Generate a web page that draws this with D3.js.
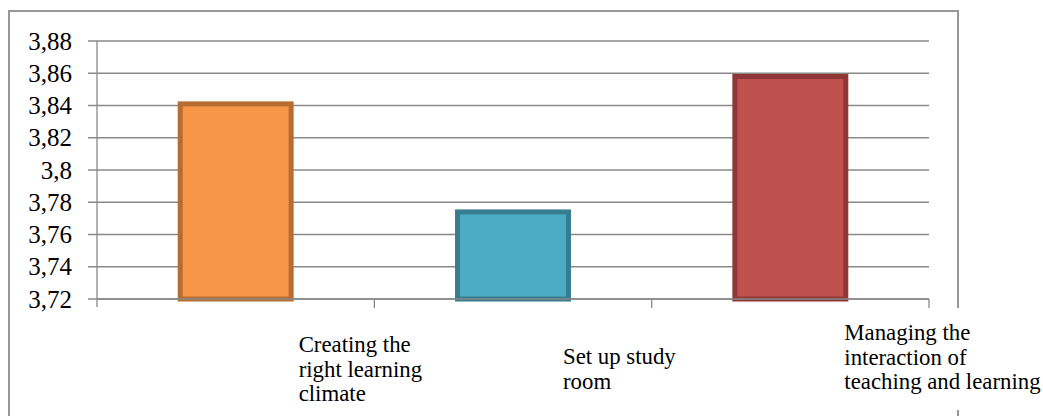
<!DOCTYPE html>
<html>
<head>
<meta charset="utf-8">
<script src="https://cdn.jsdelivr.net/npm/d3@7"></script>
<style>
  html, body { margin: 0; padding: 0; background: #fff; }
  svg { display: block; }
</style>
</head>
<body>
<svg id="chart" width="1043" height="416"></svg>
<script>
// Mean scores per competence area
const categories = [
  "Creating the right learning climate",
  "Set up study room",
  "Managing the interaction of teaching and learning"
];
const values = [3.841, 3.774, 3.858];
const labelLines = [
  ["Creating the", "right learning", "climate"],
  ["Set up study", "room"],
  ["Managing the", "interaction of", "teaching and learning"]
];
const yTicks = [3.72, 3.74, 3.76, 3.78, 3.80, 3.82, 3.84, 3.86, 3.88];

const fills   = ["#F79646", "#4BACC6", "#C0504D"];
const strokes = ["#B76C32", "#367D90", "#8E3735"];

// label placement relative to each band centre (dx to left edge, baseline of first line)
const labelLayout = [
  { dx: 63, y: 352 },
  { dx: 50, y: 364 },
  { dx: 54, y: 340 }
];

const svg = d3.select("#chart");
const plot = { left: 97, right: 929, top: 41, bottom: 299 };
const gridColor = "#898989";
const serif = "'Liberation Serif', 'Times New Roman', serif";

// chart frame
svg.append("rect")
  .attr("x", 9).attr("y", 11)
  .attr("width", 949).attr("height", 440)
  .attr("fill", "none")
  .attr("stroke", "#8c8c8c")
  .attr("stroke-width", 1.8);

const x = d3.scaleBand()
  .domain(categories)
  .range([plot.left, plot.right])
  .paddingInner(0.6)
  .paddingOuter(0.3);

const y = d3.scaleLinear()
  .domain([3.72, 3.88])
  .range([plot.bottom, plot.top]);

const fmt = d3.formatLocale({ decimal: ",", thousands: ".", grouping: [3], currency: ["", ""] }).format(".2~f");

// horizontal gridlines with short ticks past the axis
svg.append("g").selectAll("line")
  .data(yTicks)
  .join("line")
  .attr("x1", plot.left - 9).attr("x2", plot.right)
  .attr("y1", d => y(d)).attr("y2", d => y(d))
  .attr("stroke", gridColor)
  .attr("stroke-width", 1.3);

// bars
svg.append("g").selectAll("rect")
  .data(values)
  .join("rect")
  .attr("x", (d, i) => x(categories[i]))
  .attr("width", x.bandwidth())
  .attr("y", d => y(d))
  .attr("height", d => y(3.72) - y(d))
  .attr("fill", (d, i) => fills[i])
  .attr("stroke", (d, i) => strokes[i])
  .attr("stroke-width", 5);

// y axis
const yAxis = svg.append("g")
  .attr("transform", `translate(${plot.left},0)`)
  .call(d3.axisLeft(y).tickValues(yTicks).tickFormat(fmt).tickSize(0).tickPadding(25));
yAxis.attr("font-family", serif);
yAxis.select(".domain")
  .attr("d", `M0,${plot.top}V${plot.bottom + 8}`)
  .attr("stroke", gridColor)
  .attr("stroke-width", 1.3);
yAxis.selectAll("text")
  .style("font-family", serif)
  .attr("font-size", 25)
  .attr("fill", "#000");

// x axis baseline and category boundary ticks
const xAxis = svg.append("g");
xAxis.append("line")
  .attr("x1", plot.left).attr("x2", plot.right)
  .attr("y1", plot.bottom).attr("y2", plot.bottom)
  .attr("stroke", gridColor).attr("stroke-width", 1.3);
const bounds = categories.map(c => x(c) - x.step() * x.paddingInner() / 2 + x.step());
xAxis.selectAll(".xt")
  .data(bounds)
  .join("line")
  .attr("class", "xt")
  .attr("x1", d => d).attr("x2", d => d)
  .attr("y1", plot.bottom).attr("y2", plot.bottom + 9)
  .attr("stroke", gridColor).attr("stroke-width", 1.3);

// category labels
categories.forEach((c, i) => {
  const cx = x(c) + x.bandwidth() / 2;
  const lay = labelLayout[i];
  const g = svg.append("g");
  const bg = g.append("rect").attr("fill", "#fff");
  const t = g.append("text")
    .style("font-family", serif)
    .attr("font-size", 22.8)
    .attr("fill", "#000");
  labelLines[i].forEach((line, k) => {
    t.append("tspan")
      .attr("x", cx + lay.dx)
      .attr("y", lay.y + k * 24.5)
      .text(line);
  });
  const bb = t.node().getBBox();
  bg.attr("x", bb.x - 4).attr("y", bb.y - 12)
    .attr("width", bb.width + 8).attr("height", bb.height + 28);
});
</script>
</body>
</html>
